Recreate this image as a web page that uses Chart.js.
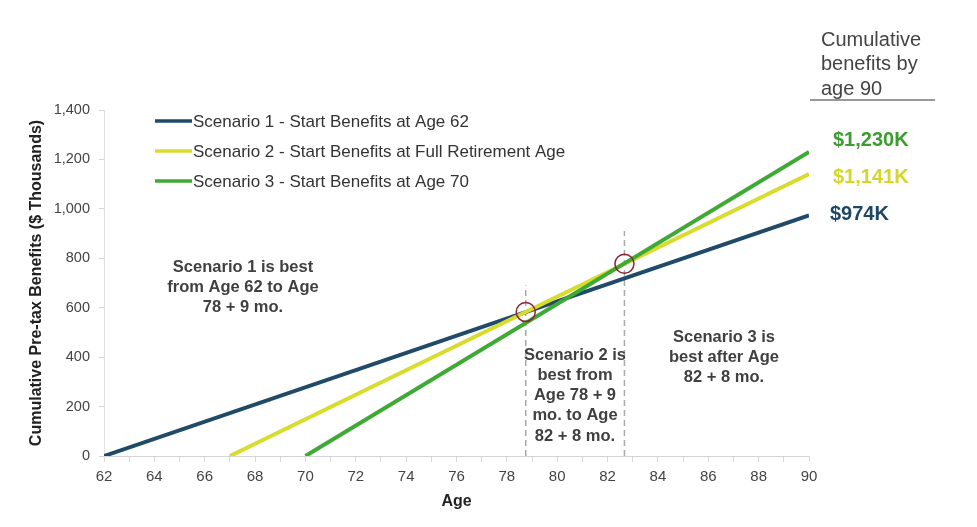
<!DOCTYPE html>
<html>
<head>
<meta charset="utf-8">
<script src="https://cdn.jsdelivr.net/npm/chart.js@4.4.1/dist/chart.umd.min.js"></script>
<style>
  html, body { margin: 0; padding: 0; background: #fff; }
  #wrap { width: 977px; height: 527px; }
</style>
</head>
<body>
<div id="wrap"><canvas id="chart" width="977" height="527"></canvas></div>
<script>
// values ($ thousands)
var seriesNames = [
  'Scenario 1 - Start Benefits at Age 62',
  'Scenario 2 - Start Benefits at Full Retirement Age',
  'Scenario 3 - Start Benefits at Age 70'
];
var ages1 = [62, 90];
var benefits1 = [0, 974];
var ages2 = [67, 90];
var benefits2 = [0, 1141];
var ages3 = [70, 90];
var benefits3 = [0, 1230];
var totalsAt90 = ['$974K', '$1,141K', '$1,230K'];

// break-even points (78 + 9 mo., 82 + 8 mo.)
var crossAges = [78.75, 82.67];
var crossValues = [583, 778];
var dashTops = [690, 910];

var colors = ['#1f4a68', '#d8dc2c', '#3eaa34'];
var labelColors = ['#1e4764', '#d4d62a', '#3b9d30'];

var tickFont = "'Liberation Sans', Arial, sans-serif";
var boldFont = "'Liberation Sans', Arial, sans-serif";

function pts(xs, ys) {
  var out = [];
  for (var i = 0; i < xs.length; i++) out.push({x: xs[i], y: ys[i]});
  return out;
}

var datasets = [];
var series = [[ages1, benefits1], [ages2, benefits2], [ages3, benefits3]];
for (var i = 0; i < series.length; i++) {
  datasets.push({
    label: seriesNames[i],
    data: pts(series[i][0], series[i][1]),
    borderColor: colors[i],
    borderWidth: 4,
    pointRadius: 0,
    order: 5 - i
  });
}
for (var j = 0; j < crossAges.length; j++) {
  datasets.push({
    label: 'dash' + j,
    data: pts([crossAges[j], crossAges[j]], [0, dashTops[j]]),
    borderColor: '#a8a8a8',
    borderWidth: 1.5,
    borderDash: [6, 4],
    pointRadius: 0,
    order: 10
  });
}
datasets.push({
  label: 'cross',
  data: pts(crossAges, crossValues),
  showLine: false,
  pointRadius: 9.5,
  pointBorderWidth: 1.5,
  pointBorderColor: '#8c2434',
  pointBackgroundColor: 'rgba(0,0,0,0)',
  order: 0
});

// legend, notes and right-hand totals
var extras = {
  id: 'extras',
  afterDraw: function (chart) {
    var ctx = chart.ctx;
    ctx.save();
    // legend
    ctx.font = "17px " + tickFont;
    ctx.textBaseline = 'middle';
    ctx.textAlign = 'left';
    for (var i = 0; i < seriesNames.length; i++) {
      var y = 121 + i * 30;
      ctx.strokeStyle = colors[i];
      ctx.lineWidth = 3.5;
      ctx.beginPath();
      ctx.moveTo(155, y);
      ctx.lineTo(192, y);
      ctx.stroke();
      ctx.fillStyle = '#333';
      ctx.fillText(seriesNames[i], 193, y + 1);
    }
    // notes
    ctx.font = "bold 16.5px " + boldFont;
    ctx.fillStyle = '#404040';
    ctx.textAlign = 'center';
    var notes = [
      {x: 243, y: 267, lines: ['Scenario 1 is best', 'from Age 62 to Age', '78 + 9 mo.']},
      {x: 575, y: 355, lines: ['Scenario 2 is', 'best from', 'Age 78 + 9', 'mo. to Age', '82 + 8 mo.']},
      {x: 724, y: 337, lines: ['Scenario 3 is', 'best after Age', '82 + 8 mo.']}
    ];
    notes.forEach(function (n) {
      n.lines.forEach(function (t, k) { ctx.fillText(t, n.x, n.y + k * 20.3); });
    });
    // totals at 90
    ctx.font = "bold 20px " + boldFont;
    ctx.textAlign = 'left';
    for (var k = 0; k < totalsAt90.length; k++) {
      ctx.fillStyle = labelColors[k];
      ctx.fillText(totalsAt90[k], k === 0 ? 830 : 833, 214 - k * 37);
    }
    // heading
    ctx.font = "20px " + boldFont;
    ctx.fillStyle = '#444';
    ['Cumulative', 'benefits by', 'age 90'].forEach(function (t, k) {
      ctx.fillText(t, 821, 40 + k * 24.5);
    });
    ctx.strokeStyle = '#777';
    ctx.lineWidth = 1.5;
    ctx.beginPath();
    ctx.moveTo(810, 100);
    ctx.lineTo(935, 100);
    ctx.stroke();
    ctx.restore();
  }
};

new Chart(document.getElementById('chart').getContext('2d'), {
  type: 'line',
  data: {datasets: datasets},
  plugins: [extras],
  options: {
    responsive: false,
    animation: false,
    layout: {padding: {top: 110, right: 168, left: 0, bottom: 0}},
    plugins: {legend: {display: false}, tooltip: {enabled: false}},
    scales: {
      x: {
        type: 'linear',
        min: 62,
        max: 90,
        ticks: {
          stepSize: 1,
          autoSkip: false,
          maxRotation: 0,
          padding: 6,
          color: '#444',
          font: {size: 15, family: tickFont},
          callback: function (v) { return v % 2 === 0 ? v : ''; }
        },
        grid: {drawOnChartArea: false, tickLength: 6, color: '#dadada'},
        border: {color: '#d4d4d4'},
        title: {
          display: true,
          text: 'Age',
          color: '#222',
          font: {size: 16, weight: 'bold', family: boldFont},
          padding: {top: 0, bottom: 16}
        },
        afterFit: function (s) { s.height = 71; }
      },
      y: {
        min: 0,
        max: 1400,
        ticks: {
          stepSize: 200,
          padding: 9,
          color: '#444',
          font: {size: 14.5, family: tickFont},
          callback: function (v) { return v.toLocaleString('en-US'); }
        },
        grid: {drawOnChartArea: false, tickLength: 5, color: '#d4d4d4'},
        border: {color: '#e0e0e0'},
        title: {
          display: true,
          text: 'Cumulative Pre-tax Benefits ($ Thousands)',
          color: '#222',
          font: {size: 16, weight: 'bold', family: boldFont},
          padding: {top: 27, bottom: 0}
        },
        afterFit: function (s) { s.width = 104; }
      }
    }
  }
});
</script>
</body>
</html>
